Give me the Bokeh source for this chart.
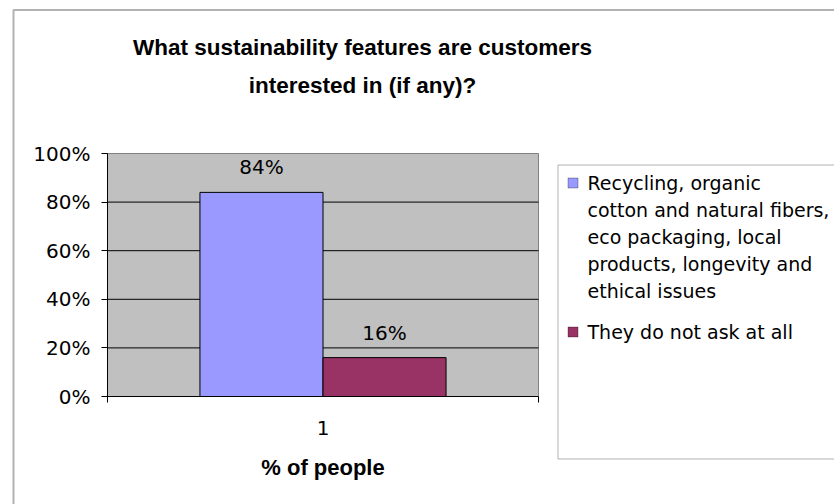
from bokeh.plotting import figure
from bokeh.models import (Range1d, FixedTicker, NumeralTickFormatter, Label, LabelSet,
                          ColumnDataSource, BoxAnnotation, LinearAxis)
from bokeh.core.properties import value
from bokeh.embed import file_html
from bokeh.resources import INLINE

# ---- data ----
title_lines = ["What sustainability features are customers", "interested in (if any)?"]
categories = ["1"]
series_names = [
    "Recycling, organic\ncotton and natural fibers,\neco packaging, local\nproducts, longevity and\nethical issues",
    "They do not ask at all",
]
series_values = [0.84, 0.16]
series_colors = ["#9999FF", "#993366"]
y_ticks = [0, 0.2, 0.4, 0.6, 0.8, 1.0]
x_axis_title = "% of people"

# ---- layout (canvas pixels) ----
W, H = 834, 504
FL, FR, FT, FB = 107, 538, 153, 396          # plot-area box on the canvas
REG = "DejaVu Sans"
BOLD = "Liberation Sans"

# data extent of the plot area
X0, X1 = 0.5, 0.5 + len(categories)
Y0, Y1 = 0.0, 1.0
xu = (X1 - X0) / (FR - FL)       # data units per pixel
yu = (Y1 - Y0) / (FB - FT)

p = figure(width=W, height=H, output_backend="svg", toolbar_location=None,
           x_axis_type=None, y_axis_type=None,
           x_range=Range1d(X0 - FL * xu, X1 + (W - FR) * xu),
           y_range=Range1d(Y0 - (H - FB) * yu, Y1 + FT * yu),
           min_border=0)
p.background_fill_color = "white"
p.border_fill_color = "white"
p.outline_line_color = None

# plot area
pa = p.quad(left=[X0], right=[X1], bottom=[Y0], top=[Y1], fill_color="#C0C0C0",
            line_color="#808080", line_width=1)
pa.level = "image"

# gridlines (from the tick values, spanning the plot area)
gy = y_ticks[1:-1]
gl = p.segment(x0=[X0] * len(gy), x1=[X1] * len(gy), y0=gy, y1=gy,
               line_color="black", line_width=1)
gl.level = "underlay"

# bars
group_w = 0.571
bar_w = group_w / len(series_values)
cat_pos = 1
xs = [cat_pos - group_w / 2 + bar_w * (i + 0.5) for i in range(len(series_values))]
src = ColumnDataSource(dict(x=xs, top=series_values, color=series_colors,
                            txt=[f"{round(v * 100)}%" for v in series_values]))
p.vbar(x="x", top="top", bottom=0, width=bar_w, fill_color="color",
       line_color="black", line_width=1, source=src)
p.add_layout(LabelSet(x="x", y="top", text="txt", source=src, y_offset=25,
                      text_align="center", text_baseline="middle",
                      text_font=value(REG), text_font_size="20px", text_color="black"))

# axes
ya = LinearAxis(fixed_location=X0, bounds=(Y0, Y1))
ya.ticker = FixedTicker(ticks=y_ticks)
ya.formatter = NumeralTickFormatter(format="0%")
ya.major_label_text_font = REG
ya.major_label_text_font_size = "20px"
ya.major_label_text_color = "black"
ya.axis_line_color = "black"
ya.major_tick_line_color = "black"
ya.major_tick_out = 6
ya.major_tick_in = 0
ya.minor_tick_line_color = None
ya.major_label_standoff = 11
p.add_layout(ya, "left")

xa = LinearAxis(fixed_location=Y0, bounds=(X0, X1))
xa.ticker = FixedTicker(ticks=[cat_pos], minor_ticks=[X0, X1])
xa.major_label_overrides = {cat_pos: categories[0]}
xa.major_label_text_font = REG
xa.major_label_text_font_size = "20px"
xa.major_label_text_color = "black"
xa.axis_line_color = "black"
xa.major_tick_out = 0
xa.major_tick_in = 0
xa.minor_tick_line_color = "black"
xa.minor_tick_out = 6
xa.minor_tick_in = 0
xa.major_label_standoff = 18
xa.axis_label = x_axis_title
xa.axis_label_text_font = BOLD
xa.axis_label_text_font_style = "bold"
xa.axis_label_text_font_size = "22px"
xa.axis_label_text_color = "black"
xa.axis_label_standoff = 17
p.add_layout(xa, "below")


def sx(x):
    return x


def sy(y):
    return H - y


def box(l, r, t, b, **kw):
    return BoxAnnotation(left=sx(l), right=sx(r), top=sy(t), bottom=sy(b),
                         left_units="screen", right_units="screen", top_units="screen",
                         bottom_units="screen", **kw)


# outer chart border (left/top visible)
p.add_layout(box(13, W + 40, 9.5, H + 40, fill_alpha=0, line_color="black", line_width=2))

# title
for i, line in enumerate(title_lines):
    p.add_layout(Label(x=sx(362), y=sy(47 + 38 * i), x_units="screen", y_units="screen",
                       text=line, text_align="center", text_baseline="alphabetic",
                       text_font=BOLD, text_font_style="bold", text_font_size="22.5px",
                       text_color="black"))

# legend
p.add_layout(box(557.5, W + 40, 164.5, 458.5, fill_color="white", fill_alpha=1,
                 line_color="black", line_width=1))
swatch_tops = [177.5, 326.5]
item_bases = [182, 331]
pitch = 27
for name, color, st, base in zip(series_names, series_colors, swatch_tops, item_bases):
    p.add_layout(box(567.5, 577.5, st, st + 10, fill_color=color, fill_alpha=1,
                     line_color="black", line_width=1))
    for j, ln in enumerate(name.split("\n")):
        p.add_layout(Label(x=sx(587), y=sy(base + pitch * j), x_units="screen",
                           y_units="screen", text=ln, text_align="left",
                           text_baseline="alphabetic", text_font=REG,
                           text_font_size="19px", text_color="black"))

open("out.html", "w").write(file_html(p, INLINE))
